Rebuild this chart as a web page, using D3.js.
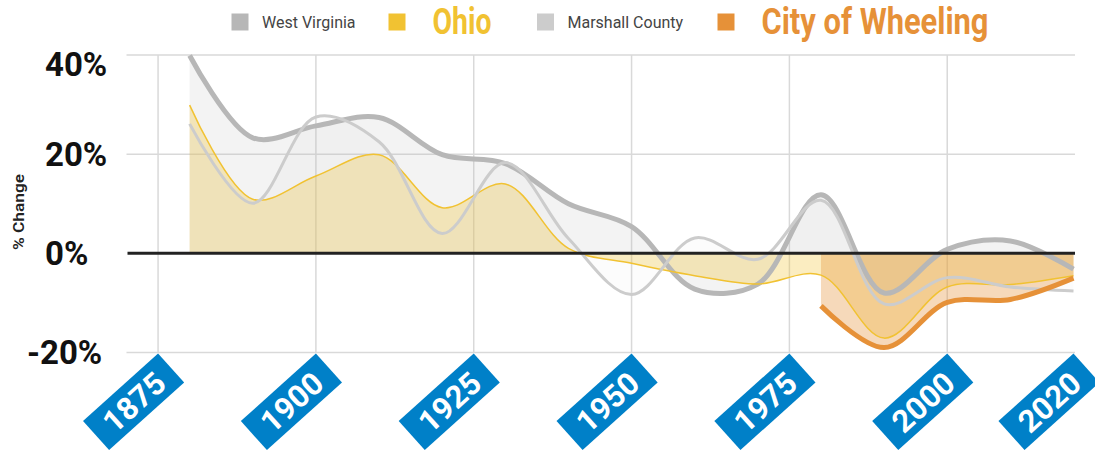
<!DOCTYPE html>
<html lang="en">
<head>
<meta charset="utf-8">
<title>Population % change by decade</title>
<script src="https://d3js.org/d3.v7.min.js"></script>
<style>
  body { margin: 0; background: #fff; }
  .heavy { font-family: Roboto, 'DejaVu Sans', sans-serif; font-weight: bold; }
</style>
</head>
<body>
<svg class="popChart"></svg>
<script>
    // decade % change
    const years = [1880, 1890, 1900, 1910, 1920, 1930, 1940, 1950, 1960, 1970, 1980, 1990, 2000, 2010, 2020];
    const westVirginia = [39.9, 23.3, 25.7, 27.4, 19.9, 18.1, 10.0, 5.4, -7.2, -6.2, 11.8, -8.0, 0.8, 2.5, -3.2];
    const ohio = [29.9, 10.9, 15.6, 19.9, 9.2, 14.0, 1.0, -2.0, -4.5, -6.2, -4.4, -17.1, -6.8, -6.3, -4.5];
    const marshall = [26.1, 10.1, 27.5, 22.5, 4.0, 18.3, 3.0, -8.3, 3.1, -1.2, 10.7, -10.2, -4.9, -6.8, -7.6];
    const wheelingYears = [1980, 1990, 2000, 2010, 2020];
    const wheeling = [-10.6, -19.0, -9.9, -9.3, -5.0];

    const yTicks = [40, 20, 0, -20];
    const xTicks = [1875, 1900, 1925, 1950, 1975, 2000, 2020];
    const seriesNames = ["West Virginia", "Ohio", "Marshall County", "City of Wheeling"];

    let W = 1095, H = 456;
    let svg = d3.select(".popChart").attr("width", W).attr("height", H);

    let x = d3.scaleLinear().domain([1870, 2020]).range([126.5, 1073.5]);
    let y = d3.scaleLinear().domain([-20, 40]).range([352.5, 55]);

    // grid
    svg.append("g").selectAll("line")
        .data(yTicks.filter(d => d !== 0))
        .enter().append("line")
        .attr("x1", x(1870)).attr("x2", x(2020) + 1.5)
        .attr("y1", d => y(d)).attr("y2", d => y(d))
        .attr("stroke", "#d9d9d9").attr("stroke-width", 1.5);
    svg.append("g").selectAll("line")
        .data(xTicks.filter(d => d < 2020))
        .enter().append("line")
        .attr("x1", d => x(d)).attr("x2", d => x(d))
        .attr("y1", y(40)).attr("y2", y(-20))
        .attr("stroke", "#d9d9d9").attr("stroke-width", 1.5);

    let curve = d3.curveCatmullRom.alpha(0.5);
    let series = [
        {name: seriesNames[0], xs: years, vals: westVirginia, color: "#b7b7b7", fill: "rgba(183,183,183,0.16)", width: 5},
        {name: seriesNames[1], xs: years, vals: ohio, color: "#f1c232", fill: "rgba(241,194,50,0.3)", width: 1.5},
        {name: seriesNames[2], xs: years, vals: marshall, color: "#cccccc", fill: "rgba(204,204,204,0.06)", width: 3},
        {name: seriesNames[3], xs: wheelingYears, vals: wheeling, color: "#e69138", fill: "rgba(230,145,56,0.35)", width: 5}
    ];
    series.forEach(s => { s.pts = s.xs.map((yr, i) => [yr, s.vals[i]]); });

    let area = d3.area().curve(curve)
        .x(d => x(d[0])).y0(y(0)).y1(d => y(d[1]));
    let line = d3.line().curve(curve)
        .x(d => x(d[0])).y(d => y(d[1]));

    svg.append("g").selectAll("path")
        .data(series).enter().append("path")
        .attr("d", d => area(d.pts))
        .attr("fill", d => d.fill);

    svg.append("g").selectAll("path")
        .data(series).enter().append("path")
        .attr("d", d => line(d.pts))
        .attr("fill", "none")
        .attr("stroke", d => d.color)
        .attr("stroke-width", d => d.width)
        .attr("stroke-linejoin", "round");

    // zero line
    svg.append("line")
        .attr("x1", x(1870) + 1).attr("x2", x(2020) + 1.5)
        .attr("y1", y(0)).attr("y2", y(0))
        .attr("stroke", "#222").attr("stroke-width", 3);

    // y labels
    svg.append("g").selectAll("text")
        .data(yTicks).enter().append("text")
        .attr("class", "heavy")
        .attr("x", 45)
        .attr("dx", d => d < 0 ? -18 : 0)
        .attr("y", d => Math.max(y(d), y(40) + 9))
        .attr("dominant-baseline", "central")
        .attr("font-size", "33px")
        .attr("fill", "#111")
        .text(d => d + "%");

    svg.append("text")
        .attr("transform", "translate(24,212) rotate(-90)")
        .attr("text-anchor", "middle")
        .attr("textLength", 76)
        .attr("lengthAdjust", "spacingAndGlyphs")
        .style("font-family", "Roboto, sans-serif")
        .style("font-weight", 600)
        .style("font-size", "15px")
        .attr("fill", "#222")
        .text("% Change");

    // x tick labels: rotated blue tags
    let tags = svg.append("g").selectAll("g")
        .data(xTicks).enter().append("g")
        .attr("transform", d => "translate(" + x(d) + "," + (y(-20) + 1) + ") rotate(-42)");
    tags.append("rect")
        .attr("x", -101).attr("y", 0)
        .attr("width", 101).attr("height", 39)
        .attr("fill", "#0080c8");
    tags.append("text")
        .attr("class", "heavy")
        .attr("x", -50.5).attr("y", 20.5)
        .attr("text-anchor", "middle")
        .attr("dominant-baseline", "central")
        .attr("font-size", "31px")
        .attr("textLength", 72)
        .attr("lengthAdjust", "spacingAndGlyphs")
        .attr("fill", "#fff")
        .text(d => d);

    // legend
    let legendX = [231.5, 388.5, 537, 717.5];
    let bigWidth = [0, 59, 0, 227];
    let legend = svg.append("g").selectAll("g")
        .data(series).enter().append("g")
        .attr("transform", (d, i) => "translate(" + legendX[i] + ",13.5)");
    legend.append("rect")
        .attr("width", 17).attr("height", 17)
        .attr("fill", d => d.color);
    legend.append("text")
        .attr("x", (d, i) => i % 2 ? 44 : 30.5)
        .attr("y", (d, i) => i % 2 ? 20.5 : 14)
        .attr("class", (d, i) => i % 2 ? "heavy" : null)
        .style("font-family", (d, i) => i % 2 ? null : "Roboto, sans-serif")
        .style("font-size", (d, i) => i % 2 ? "36px" : "16px")
        .attr("textLength", (d, i) => i % 2 ? bigWidth[i] : null)
        .attr("lengthAdjust", "spacingAndGlyphs")
        .attr("fill", (d, i) => i % 2 ? d.color : "#444")
        .text(d => d.name);
</script>
</body>
</html>
